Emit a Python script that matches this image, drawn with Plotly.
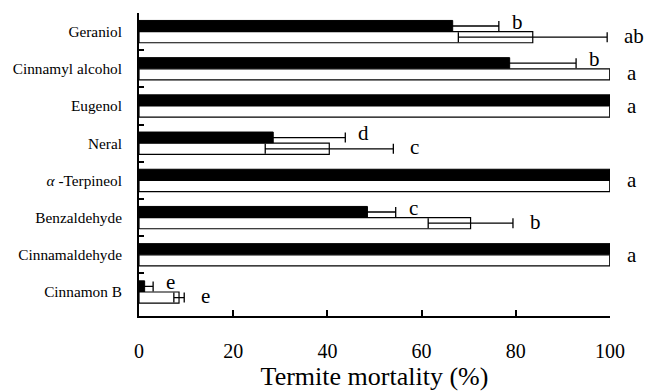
import plotly.graph_objects as go

categories = ["Geraniol", "Cinnamyl alcohol", "Eugenol", "Neral",
              "<i>α</i> -Terpineol", "Benzaldehyde", "Cinnamaldehyde", "Cinnamon B"]
black_vals = [66.6, 78.7, 100, 28.5, 100, 48.5, 100, 1.2]
black_err = [9.8, 14.1, 0, 15.3, 0, 6.0, 0, 1.8]
white_vals = [83.6, 100, 100, 40.4, 100, 70.4, 100, 8.5]
white_err = [15.8, 0, 0, 13.6, 0, 9.0, 0, 1.1]
black_letters = ["b", "b", "", "d", "", "c", "", "e"]
white_letters = ["ab", "a", "", "c", "", "b", "", "e"]
group_letters = ["", "", "a", "", "a", "", "a", ""]
x_ticks = [0, 20, 40, 60, 80, 100]

FONT = "Liberation Serif"

fig = go.Figure()
fig.add_trace(go.Bar(
    y=categories, x=black_vals, orientation="h",
    marker=dict(color="black", line=dict(color="black", width=1)),
    error_x=dict(type="data", array=black_err, symmetric=True,
                 color="black", thickness=1.3, width=5),
    showlegend=False,
))
fig.add_trace(go.Bar(
    y=categories, x=white_vals, orientation="h",
    marker=dict(color="white", line=dict(color="black", width=1.2)),
    error_x=dict(type="data", array=white_err, symmetric=True,
                 color="black", thickness=1.3, width=5),
    showlegend=False,
))

annotations = []
for i, cat in enumerate(categories):
    if black_letters[i]:
        annotations.append(dict(x=black_vals[i] + black_err[i], y=cat, text=black_letters[i],
                                xanchor="left", yanchor="middle", xshift=11, yshift=10,
                                showarrow=False, font=dict(family=FONT, size=21, color="black")))
    if white_letters[i]:
        annotations.append(dict(x=white_vals[i] + white_err[i], y=cat, text=white_letters[i],
                                xanchor="left", yanchor="middle", xshift=15, yshift=-4,
                                showarrow=False, font=dict(family=FONT, size=21, color="black")))
    if group_letters[i]:
        annotations.append(dict(x=white_vals[i], y=cat, text=group_letters[i],
                                xanchor="left", yanchor="middle", xshift=15, yshift=0,
                                showarrow=False, font=dict(family=FONT, size=21, color="black")))

fig.update_layout(
    width=647, height=392,
    margin=dict(l=138.5, r=36.5, t=13, b=76, autoexpand=False),
    paper_bgcolor="white", plot_bgcolor="white",
    barmode="group", bargap=0.4, bargroupgap=0,
    font=dict(family=FONT, color="black"),
    annotations=annotations,
    xaxis=dict(range=[0, 100], tickvals=x_ticks, ticks="inside", ticklen=6,
               tickwidth=1.5, tickcolor="black", showline=True, linecolor="black",
               linewidth=2, showgrid=False, zeroline=False, automargin=False,
               tickfont=dict(family=FONT, size=20), ticklabelstandoff=16,
               title=dict(text="Termite mortality (%)", font=dict(family=FONT, size=26),
                          standoff=3)),
    yaxis=dict(autorange="reversed", type="category", ticks="inside", tickson="boundaries",
               ticklen=5, tickwidth=1.5, tickcolor="black", showline=True,
               linecolor="black", linewidth=2, showgrid=False, zeroline=False,
               automargin=False,
               tickfont=dict(family=FONT, size=15.3), ticklabelstandoff=12),
)

fig.write_html("out.html", config={"displayModeBar": False},
               post_script="document.body.style.margin='0';document.body.style.padding='0';")
